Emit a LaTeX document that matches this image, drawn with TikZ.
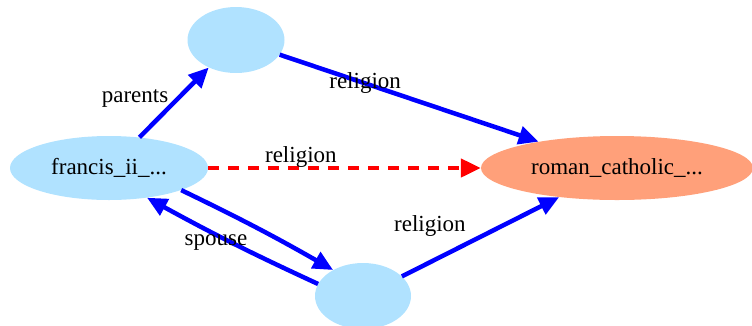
\documentclass[tikz,border=0pt]{standalone}
\usepackage{fontspec}
\setmainfont{Liberation Serif}
\usetikzlibrary{arrows.meta,positioning,shapes.geometric}
\definecolor{entblue}{HTML}{B0E2FF}
\definecolor{valsalmon}{HTML}{FFA07A}

\begin{document}
\begin{tikzpicture}[x=1pt, y=-1pt,
  entNode/.style ={ellipse, fill=entblue, inner sep=0pt, font=\fontsize{23}{26}\selectfont},
  valNode/.style ={ellipse, fill=valsalmon, inner sep=0pt, font=\fontsize{23}{26}\selectfont},
  relEdge/.style ={draw=blue, line width=4.5pt, -{Triangle[length=20pt,width=18pt]}},
  infEdge/.style ={draw=red, line width=4.5pt, dash pattern=on 11pt off 9pt, -{Triangle[length=20pt,width=18pt]}},
  edgeLbl/.style ={font=\fontsize{23}{26}\selectfont, inner sep=0pt},
]
% pixel grid of the reference, y downwards
\useasboundingbox (0,0) rectangle (752,325);

\node[entNode, minimum width=97pt, minimum height=66pt]  (top) at (236,40)  {};
\node[entNode, minimum width=198pt, minimum height=64pt] (fr)  at (109,168) {francis\_ii\_...};
\node[valNode, minimum width=272pt, minimum height=64pt] (rc)  at (617,168) {roman\_catholic\_...};
\node[entNode, minimum width=96pt, minimum height=66pt]  (bot) at (363,296) {};

\draw[relEdge] (fr) -- node[edgeLbl, pos=.55, left=7pt] {parents} (top);
\draw[relEdge] (top) -- node[edgeLbl, pos=.33] {religion} (rc);
\draw[infEdge] (fr) -- node[edgeLbl, pos=.34, above=-2pt] {religion} (rc);
\draw[relEdge] (bot) -- node[edgeLbl, pos=.42, anchor=south east, yshift=4pt] {religion} (rc);

% spouse, both ways
\draw[relEdge] (fr.-17) to[bend left=2] (bot.139);
\draw[relEdge] (bot.165) to[bend left=2] node[edgeLbl, pos=.6, below=-2pt] {spouse} (fr.-38);
\end{tikzpicture}
\end{document}
